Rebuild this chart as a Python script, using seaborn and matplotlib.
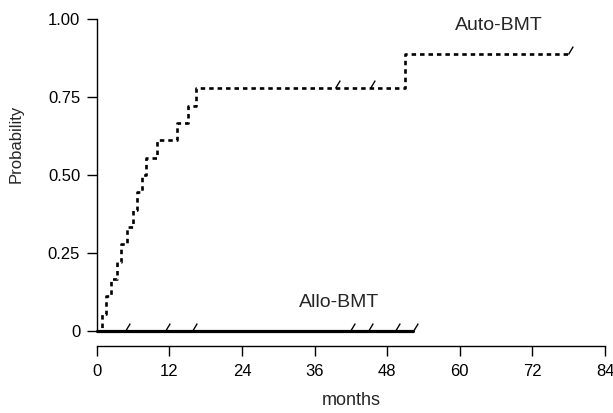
import numpy as np
import matplotlib
matplotlib.use("Agg")
import matplotlib.pyplot as plt
from matplotlib.path import Path
import seaborn as sns

sns.set_style("ticks")
plt.rcParams["font.family"] = ["Liberation Sans", "DejaVu Sans"]

# step curve of Auto-BMT (months where the probability steps up)
auto_months = [0, 0.9, 1.5, 2.3, 3.3, 4.0, 5.0, 6.0, 6.6, 7.4, 8.1, 9.9, 13.2, 15.0, 16.4, 50.9, 78.0]
auto_prob = [0, 0.056, 0.111, 0.167, 0.222, 0.278, 0.333, 0.389, 0.444, 0.5, 0.556,
             0.611, 0.667, 0.722, 0.778, 0.889, 0.889]
auto_cens_months = [39.3, 45.2, 77.8]
auto_cens_prob = [0.778, 0.778, 0.889]

# Allo-BMT stays at zero
allo_months = [0, 52.2]
allo_prob = [0, 0]
allo_cens_months = [4.6, 11.2, 15.7, 41.8, 44.8, 49.3, 52.2]
allo_cens_prob = [0, 0, 0, 0, 0, 0, 0]

xticks = [0, 12, 24, 36, 48, 60, 72, 84]
yticks = [0, 0.25, 0.5, 0.75, 1.0]
ytick_labels = ["0", "0.25", "0.50", "0.75", "1.00"]

fig = plt.figure(figsize=(6.13, 4.13), dpi=100)
ax = fig.add_axes([0.158, 0.1985, 0.829, 0.7555])

sns.lineplot(x=auto_months, y=auto_prob, ax=ax, color="black", drawstyle="steps-post",
             linestyle=(0, (1.7, 1.5)), linewidth=1.9, estimator=None)
sns.lineplot(x=allo_months, y=allo_prob, ax=ax, color="black", linewidth=2.3,
             estimator=None, clip_on=False)

# censoring ticks: small slash drawn upward from the curve
slash = Path([(0, 0), (0.6, 1)], [Path.MOVETO, Path.LINETO])
sns.scatterplot(x=auto_cens_months, y=auto_cens_prob, ax=ax, marker=slash, s=130,
                color="black", edgecolor="black", linewidth=1.0, clip_on=False)
sns.scatterplot(x=allo_cens_months, y=allo_cens_prob, ax=ax, marker=slash, s=130,
                color="black", edgecolor="black", linewidth=1.0, clip_on=False)

ax.set_xlim(0, 84)
ax.set_ylim(0, 1.0)
ax.set_xticks(xticks)
ax.set_yticks(yticks)
ax.set_yticklabels(ytick_labels)
ax.tick_params(labelsize=12, length=7, width=1, pad=5, colors="black")
ax.tick_params(axis="x", pad=6)

sns.despine(ax=ax)
ax.spines["bottom"].set_position(("outward", 10.8))
ax.spines["left"].set_bounds(0, 1.0)
for sp in ["left", "bottom"]:
    ax.spines[sp].set_linewidth(1.0)
    ax.spines[sp].set_color("black")

ax.set_xlabel("months", fontsize=13)
ax.set_ylabel("Probability", fontsize=12)
ax.xaxis.set_label_coords(0.5, -0.195)
ax.yaxis.set_label_coords(-0.145, 0.6)

ax.text(66.4, 0.98, "Auto-BMT", fontsize=14, ha="center", va="center")
ax.text(40, 0.093, "Allo-BMT", fontsize=14, ha="center", va="center")

fig.savefig("out.png", dpi=100)
